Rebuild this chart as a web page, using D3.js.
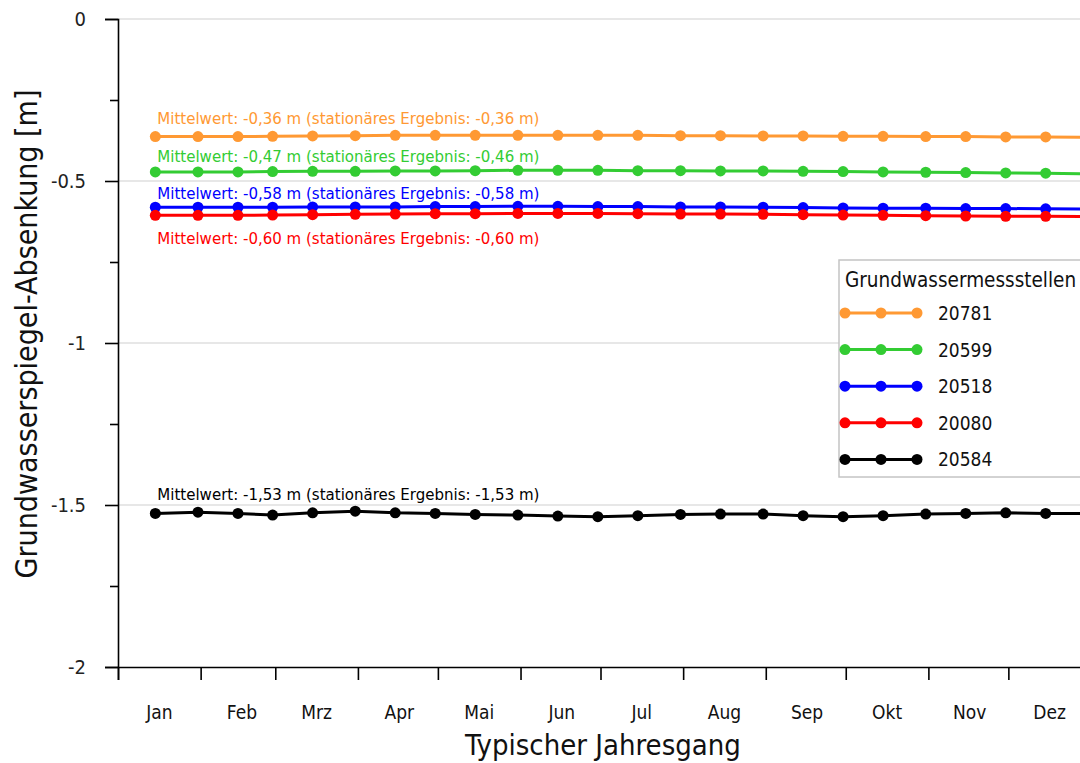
<!DOCTYPE html>
<html>
<head>
<meta charset="utf-8">
<script src="https://cdn.jsdelivr.net/npm/d3@7"></script>
<style>
  html, body { margin: 0; padding: 0; background: #fff; }
  svg { display: block; font-family: "Liberation Sans Narrow", "DejaVu Sans Condensed", sans-serif; }
</style>
</head>
<body>
<div id="chart"></div>
<script>
// Stichtage (Mitte und Ende jedes Monats)
const dates = [
  "2001-01-15", "2001-01-31", "2001-02-15", "2001-02-28", "2001-03-15", "2001-03-31",
  "2001-04-15", "2001-04-30", "2001-05-15", "2001-05-31", "2001-06-15", "2001-06-30",
  "2001-07-15", "2001-07-31", "2001-08-15", "2001-08-31", "2001-09-15", "2001-09-30",
  "2001-10-15", "2001-10-31", "2001-11-15", "2001-11-30", "2001-12-15", "2001-12-31"
];
const monthLabels = ["Jan", "Feb", "Mrz", "Apr", "Mai", "Jun", "Jul", "Aug", "Sep", "Okt", "Nov", "Dez"];
const yTicks = [0, -0.5, -1, -1.5, -2];
const yMinorTicks = [-0.25, -0.75, -1.25, -1.75];

const stations = ["20781", "20599", "20518", "20080", "20584"];
const colors = ["#ff9933", "#33cc33", "#0000ff", "#ff0000", "#000000"];

const v20781 = [-0.363, -0.363, -0.363, -0.362, -0.361, -0.360, -0.359, -0.359, -0.359, -0.359, -0.359, -0.359,
                -0.359, -0.360, -0.360, -0.361, -0.361, -0.362, -0.362, -0.363, -0.363, -0.364, -0.364, -0.365];
const v20599 = [-0.472, -0.472, -0.472, -0.471, -0.470, -0.470, -0.469, -0.469, -0.468, -0.467, -0.467, -0.467,
                -0.468, -0.468, -0.469, -0.469, -0.470, -0.471, -0.472, -0.473, -0.474, -0.475, -0.476, -0.478];
const v20518 = [-0.581, -0.581, -0.581, -0.581, -0.580, -0.580, -0.580, -0.579, -0.579, -0.578, -0.578, -0.579,
                -0.579, -0.580, -0.580, -0.581, -0.582, -0.583, -0.584, -0.584, -0.585, -0.585, -0.586, -0.587];
const v20080 = [-0.606, -0.606, -0.606, -0.605, -0.604, -0.603, -0.602, -0.601, -0.601, -0.600, -0.600, -0.600,
                -0.601, -0.602, -0.602, -0.603, -0.604, -0.605, -0.606, -0.607, -0.608, -0.609, -0.609, -0.610];
const v20584 = [-1.526, -1.522, -1.526, -1.531, -1.524, -1.519, -1.524, -1.526, -1.529, -1.531, -1.534, -1.536,
                -1.533, -1.529, -1.528, -1.528, -1.533, -1.536, -1.533, -1.528, -1.526, -1.524, -1.526, -1.526];
const seriesValues = [v20781, v20599, v20518, v20080, v20584];

const meanText = ["-0,36", "-0,47", "-0,58", "-0,60", "-1,53"];
const statText = ["-0,36", "-0,46", "-0,58", "-0,60", "-1,53"];
const meanValues = [-0.36, -0.47, -0.58, -0.60, -1.53];

const width = 1080, height = 763;
const parse = d3.timeParse("%Y-%m-%d");

const svg = d3.select("#chart").append("svg")
  .attr("width", width)
  .attr("height", height);

// scales: plot spans a full year, right part is cut by the picture edge
const x = d3.scaleTime()
  .domain([new Date(2001, 0, 1), new Date(2002, 0, 1)])
  .range([118, 1091]);
const y = d3.scaleLinear().domain([0, -2]).range([19, 667]);

// gridlines
svg.append("g")
  .selectAll("line")
  .data(yTicks.filter(d => d !== -2))
  .enter().append("line")
  .attr("x1", 118).attr("x2", width)
  .attr("y1", d => y(d)).attr("y2", d => y(d))
  .attr("stroke", "#cfcfcf")
  .attr("stroke-width", 1);

// y axis
const yAxis = svg.append("g")
  .attr("transform", "translate(118,0)")
  .call(d3.axisLeft(y).tickValues(yTicks).tickSize(13).tickPadding(19)
    .tickFormat(d => String(d)));
yAxis.select(".domain").attr("stroke", "#000").attr("stroke-width", 1.6);
yAxis.selectAll(".tick line").attr("stroke", "#000").attr("stroke-width", 1.6);
yAxis.selectAll(".tick text")
  .style("font-family", "'DejaVu Sans Condensed', sans-serif")
  .style("font-size", "20px")
  .attr("fill", "#222");
svg.append("g")
  .attr("transform", "translate(118,0)")
  .call(d3.axisLeft(y).tickValues(yMinorTicks).tickSize(8).tickFormat(""))
  .call(g => g.select(".domain").remove())
  .selectAll(".tick line").attr("stroke", "#000").attr("stroke-width", 1.6);

// x axis
const xAxis = svg.append("g")
  .attr("transform", "translate(0,667)")
  .call(d3.axisBottom(x).ticks(d3.timeMonth.every(1)).tickSize(13).tickFormat(""));
xAxis.select(".domain").attr("stroke", "#000").attr("stroke-width", 1.6);
xAxis.selectAll(".tick line").attr("stroke", "#000").attr("stroke-width", 1.6);

svg.append("g")
  .selectAll("text")
  .data(monthLabels)
  .enter().append("text")
  .attr("x", (d, i) => x(new Date(2001, i, 16, 12)))
  .attr("y", 719)
  .attr("text-anchor", "middle")
  .attr("font-size", 19)
  .attr("fill", "#111")
  .text(d => d);

// axis titles
svg.append("text")
  .attr("x", 603).attr("y", 755)
  .attr("text-anchor", "middle")
  .attr("font-size", 29)
  .attr("fill", "#111")
  .text("Typischer Jahresgang");

svg.append("text")
  .attr("transform", "translate(37,334) rotate(-90)")
  .attr("text-anchor", "middle")
  .attr("font-size", 30)
  .attr("fill", "#111")
  .text("Grundwasserspiegel-Absenkung [m]");

// lines and markers
const line = d3.line()
  .x((d, i) => x(parse(dates[i])))
  .y(d => y(d));

seriesValues.forEach((vals, k) => {
  const g = svg.append("g");
  g.append("path")
    .datum(vals)
    .attr("fill", "none")
    .attr("stroke", colors[k])
    .attr("stroke-width", 3)
    .attr("d", line);
  g.selectAll("circle")
    .data(vals)
    .enter().append("circle")
    .attr("cx", (d, i) => x(parse(dates[i])))
    .attr("cy", d => y(d))
    .attr("r", 5.5)
    .attr("fill", colors[k]);
});

// Mittelwert annotations
const labelOffset = [-12, -9, -8, 31, -15];
svg.append("g")
  .selectAll("text")
  .data(stations)
  .enter().append("text")
  .attr("x", x(parse(dates[0])) + 2)
  .attr("y", (d, k) => y(meanValues[k]) + labelOffset[k])
  .attr("font-size", 16.7)
  .attr("fill", (d, k) => colors[k])
  .text((d, k) => "Mittelwert: " + meanText[k] + " m (stationäres Ergebnis: " + statText[k] + " m)");

// legend
const legend = svg.append("g").attr("transform", "translate(839,260)");
legend.append("rect")
  .attr("x", 0).attr("y", 0)
  .attr("width", 260).attr("height", 217)
  .attr("fill", "#fff")
  .attr("stroke", "#c4c4c4")
  .attr("stroke-width", 1.5);
legend.append("text")
  .attr("x", 6).attr("y", 27)
  .attr("font-size", 20.5)
  .attr("fill", "#111")
  .text("Grundwassermessstellen");
const item = legend.selectAll(".item")
  .data(stations)
  .enter().append("g")
  .attr("transform", (d, k) => "translate(6," + (53 + k * 36.6) + ")");
item.append("line")
  .attr("x1", 0).attr("x2", 72)
  .attr("stroke", (d, k) => colors[k])
  .attr("stroke-width", 3);
item.selectAll("circle")
  .data((d, k) => [0, 36, 72].map(cx => ({ cx, k })))
  .enter().append("circle")
  .attr("cx", d => d.cx)
  .attr("r", 5.5)
  .attr("fill", d => colors[d.k]);
item.append("text")
  .attr("x", 93).attr("y", 7)
  .attr("font-size", 19)
  .attr("fill", "#111")
  .text(d => d);
</script>
</body>
</html>
